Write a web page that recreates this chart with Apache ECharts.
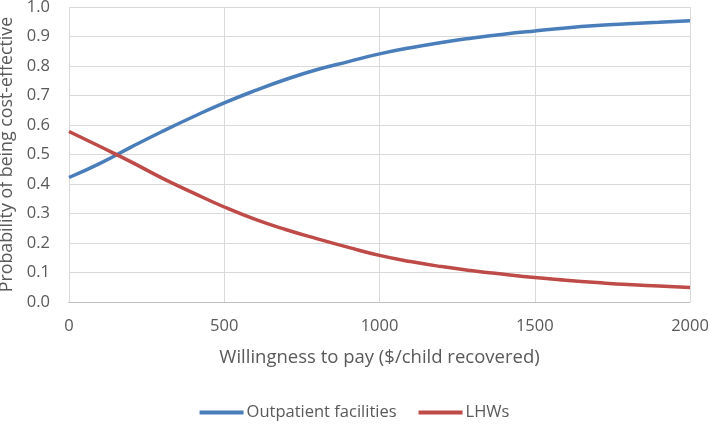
<!DOCTYPE html>
<html>
<head>
<meta charset="utf-8">
<script src="https://cdn.jsdelivr.net/npm/echarts@6/dist/echarts.min.js"></script>
<style>html,body{margin:0;padding:0;background:#fff}#c{width:709px;height:424px}</style>
</head>
<body>
<div id="c"></div>
<script>
var wtp = [0,100,200,300,400,500,600,700,800,900,1000,1100,1200,1300,1400,1500,1600,1700,1800,1900,2000];
var outpatient = [0.422,0.47,0.525,0.578,0.628,0.675,0.717,0.755,0.788,0.815,0.841,0.862,0.88,0.895,0.908,0.919,0.929,0.937,0.943,0.948,0.953];
var lhws = [0.578,0.527,0.475,0.42,0.37,0.322,0.28,0.245,0.214,0.185,0.158,0.137,0.12,0.106,0.094,0.083,0.074,0.066,0.059,0.054,0.049];
var xTicks = [0,500,1000,1500,2000];
var yTicks = [0,0.1,0.2,0.3,0.4,0.5,0.6,0.7,0.8,0.9,1.0];

var font = 'Open Sans';
var txt = '#595959';
function pairs(ys){ return wtp.map(function(x,i){ return [x, ys[i]]; }); }

var chart = echarts.init(document.getElementById('c'), null, {renderer:'canvas'});
chart.setOption({
  animation:false,
  backgroundColor:'#fff',
  grid:{left:69, right:19, top:7, bottom:122, containLabel:false, outerBoundsMode:'none'},
  legend:{
    top:404, left:'center', itemWidth:44, itemHeight:4, itemGap:22, padding:0,
    icon:'rect',
    textStyle:{fontFamily:font, fontSize:16.5, color:txt, padding:[0,0,0,-2]},
    data:['Outpatient facilities','LHWs']
  },
  xAxis:{
    type:'value', min:0, max:2000, interval:500,
    name:'Willingness to pay ($/child recovered)', nameLocation:'middle', nameGap:46,
    nameTextStyle:{fontFamily:font, fontSize:18.5, color:txt},
    axisLine:{show:true, lineStyle:{color:'#bfbfbf', width:1}},
    axisTick:{show:false},
    axisLabel:{fontFamily:font, fontSize:16.5, color:txt, margin:16,
      formatter:function(v){ return xTicks.indexOf(v)>=0 ? String(v) : ''; }},
    splitLine:{show:true, lineStyle:{color:'#d9d9d9', width:1}}
  },
  yAxis:{
    type:'value', min:0, max:1, interval:0.1,
    name:'Probability of being cost-effective', nameLocation:'middle', nameGap:53,
    nameTextStyle:{fontFamily:font, fontSize:17.8, color:txt},
    axisLine:{show:false},
    axisTick:{show:false},
    axisLabel:{fontFamily:font, fontSize:16.5, color:txt, margin:19,
      formatter:function(v){ return v.toFixed(1); }},
    splitLine:{show:true, lineStyle:{color:'#d9d9d9', width:1}}
  },
  series:[
    {name:'Outpatient facilities', type:'line', smooth:true, showSymbol:false, symbol:'none',
     data:pairs(outpatient), lineStyle:{color:'#4a7ebb', width:3.5}, itemStyle:{color:'#4a7ebb'}},
    {name:'LHWs', type:'line', smooth:true, showSymbol:false, symbol:'none',
     data:pairs(lhws), lineStyle:{color:'#be4b48', width:3.5}, itemStyle:{color:'#be4b48'}}
  ]
});
</script>
</body>
</html>
